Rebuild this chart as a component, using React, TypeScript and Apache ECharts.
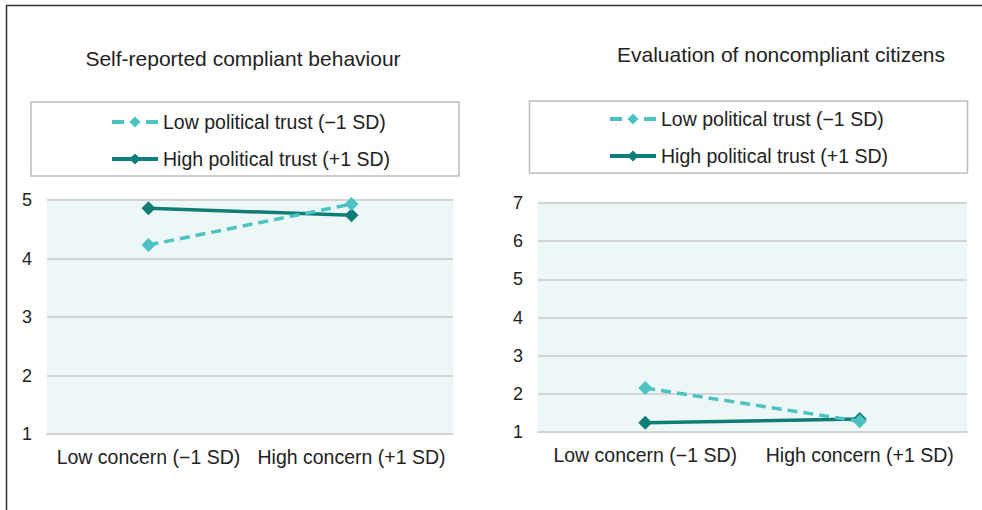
import React, { useEffect, useRef } from "react";
import * as echarts from "echarts";

const categories = ["Low concern (\u22121 SD)", "High concern (+1 SD)"];
const seriesNames = ["Low political trust (\u22121 SD)", "High political trust (+1 SD)"];
const titles = ["Self-reported compliant behaviour", "Evaluation of noncompliant citizens"];
// Left panel: self-reported compliant behaviour
const behaviourLowTrust = [4.23, 4.93];
const behaviourHighTrust = [4.86, 4.74];
// Right panel: evaluation of noncompliant citizens
const evaluationLowTrust = [2.15, 1.28];
const evaluationHighTrust = [1.24, 1.34];

const LOW_COLOR = "#4cc3c3";
const HIGH_COLOR = "#0f7d78";
const FONT = "'Liberation Sans', Arial, sans-serif";

export default function App() {
  const ref = useRef<HTMLDivElement>(null);
  useEffect(() => {
    document.body.style.margin = "0";
    const chart = echarts.init(ref.current!, null, { renderer: "svg" });
    const grids = [
      { left: 47, right: 529, top: 200, bottom: 76, max: 5 },
      { left: 538, right: 15, top: 203, bottom: 78, max: 7 },
    ];
    const data = [
      [behaviourLowTrust, behaviourHighTrust],
      [evaluationLowTrust, evaluationHighTrust],
    ];
    const series: any[] = [];
    data.forEach((pair, gi) => {
      pair.forEach((vals, si) => {
        const color = si === 0 ? LOW_COLOR : HIGH_COLOR;
        series.push({
          type: "line",
          name: seriesNames[si],
          xAxisIndex: gi,
          yAxisIndex: gi,
          data: vals,
          symbol: "diamond",
          symbolSize: 14,
          lineStyle: { color, width: 3.5, type: si === 0 ? [10, 6] : "solid" },
          itemStyle: { color },
          z: si === 0 ? 3 : 2,
        });
      });
    });
    const textStyle = { fontFamily: FONT, color: "#222" };
    const legendData = [
      { name: seriesNames[0], lineStyle: { type: [12, 22], width: 4 } },
      { name: seriesNames[1], lineStyle: { width: 4 } },
    ];
    const legendCommon = {
      orient: "vertical", itemWidth: 46, itemHeight: 14, itemGap: 17,
      lineStyle: { width: 4 },
      textStyle: { ...textStyle, fontSize: 19.5 }, data: legendData, selectedMode: false,
    };
    chart.setOption({
      animation: false,
      textStyle,
      title: [
        { text: titles[0], left: 238, top: 43, textAlign: "center", textStyle: { ...textStyle, fontSize: 21, fontWeight: "normal" } },
        { text: titles[1], left: 776, top: 39, textAlign: "center", textStyle: { ...textStyle, fontSize: 21, fontWeight: "normal" } },
      ],
      legend: [
        { ...legendCommon, left: 105, top: 107 },
        { ...legendCommon, left: 603, top: 104 },
      ],
      grid: grids.map((g) => ({
        left: g.left, right: g.right, top: g.top, bottom: g.bottom,
        show: true, backgroundColor: "#eef7f7", borderWidth: 0,
      })),
      xAxis: grids.map((_, i) => ({
        type: "category", gridIndex: i, data: categories, boundaryGap: true,
        axisLine: { lineStyle: { color: "#d4d4d4", width: 2 } },
        axisTick: { show: false },
        axisLabel: { fontSize: 19.5, color: "#222", fontFamily: FONT, margin: 13, interval: 0, hideOverlap: false },
      })),
      yAxis: grids.map((g, i) => ({
        type: "value", gridIndex: i, min: 1, max: g.max, interval: 1,
        axisLine: { show: false }, axisTick: { show: false },
        splitLine: { lineStyle: { color: "#d4d4d4", width: 2 } },
        axisLabel: { fontSize: 18, color: "#222", fontFamily: FONT, margin: 15 },
      })),
      series,
      graphic: [
        { type: "line", shape: { x1: 6.5, y1: 5, x2: 6.5, y2: 510 }, style: { stroke: "#333", lineWidth: 1.5 } },
        { type: "line", shape: { x1: 6, y1: 5.5, x2: 982, y2: 5.5 }, style: { stroke: "#333", lineWidth: 1.5 } },
        { type: "rect", shape: { x: 31, y: 102, width: 428, height: 74 }, style: { fill: "none", stroke: "#bdbdbd", lineWidth: 1.5 }, z: -1 },
        { type: "rect", shape: { x: 529.5, y: 101, width: 438, height: 72 }, style: { fill: "none", stroke: "#bdbdbd", lineWidth: 1.5 }, z: -1 },
      ],
    });
    return () => chart.dispose();
  }, []);
  return <div ref={ref} style={{ width: 982, height: 510 }} />;
}
